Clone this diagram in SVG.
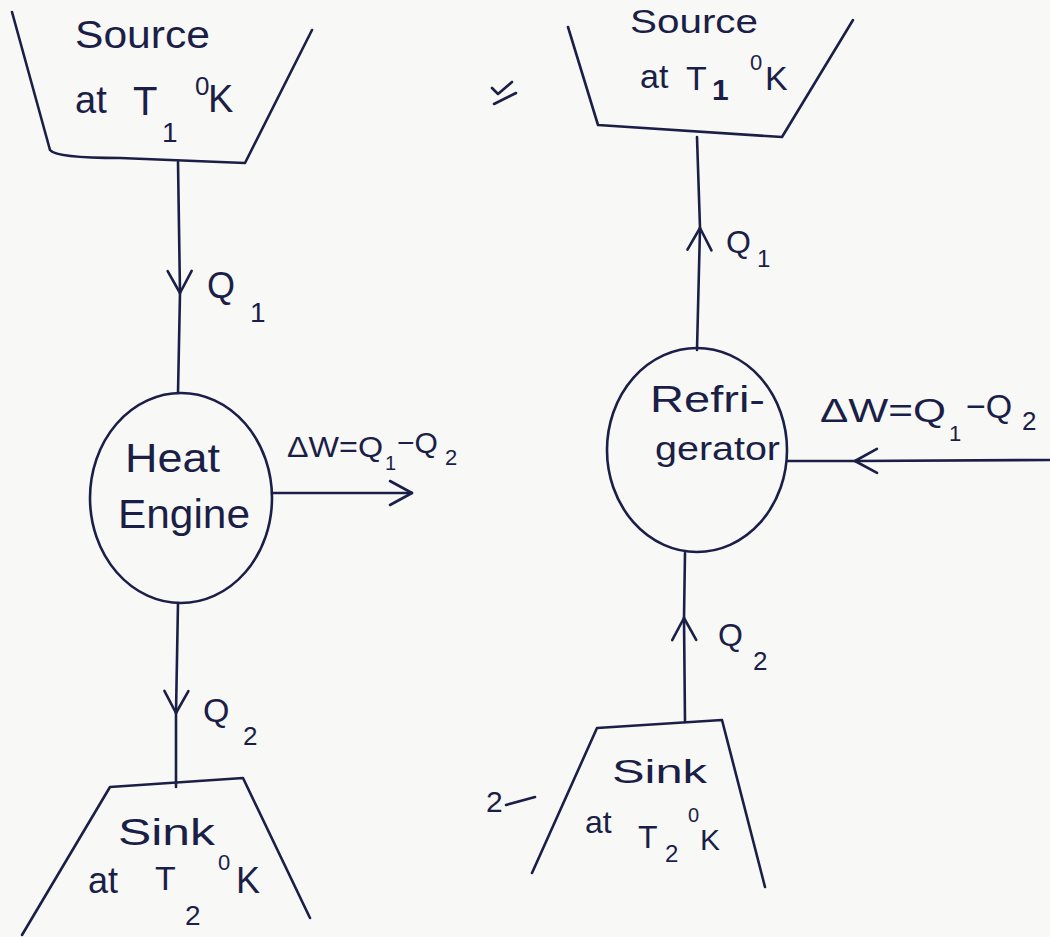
<svg xmlns="http://www.w3.org/2000/svg" width="1050" height="937" viewBox="0 0 1050 937">
<style>
.ln{fill:none;stroke:#1b1f48;stroke-width:2.6;stroke-linecap:round;stroke-linejoin:round}
.t{font-family:"Liberation Sans","DejaVu Sans",sans-serif;fill:#1b1f48}
</style>
<defs>
<marker id="chev" viewBox="-26 -16 30 32" markerWidth="30" markerHeight="32" refX="0" refY="0" orient="auto" markerUnits="userSpaceOnUse">
<path d="M-22,-12 L0,0 L-22,12" fill="none" stroke="#1b1f48" stroke-width="2.6" stroke-linecap="round" stroke-linejoin="round"/>
</marker>
</defs>
<rect width="1050" height="937" fill="#f8f8f6"/>

<g id="connectors">
<path class="ln" d="M178,162 L180,293" marker-end="url(#chev)"/>
<path class="ln" d="M180,293 L178,393"/>
<path class="ln" d="M178,603 L176,713" marker-end="url(#chev)"/>
<path class="ln" d="M176,713 L176,787"/>
<path class="ln" d="M272,493 L412,493" marker-end="url(#chev)"/>
<path class="ln" d="M697,350 L700,228" marker-end="url(#chev)"/>
<path class="ln" d="M700,228 L697,137"/>
<path class="ln" d="M685,722 L684,618" marker-end="url(#chev)"/>
<path class="ln" d="M684,618 L685,553"/>
<path class="ln" d="M1050,460 L855,461" marker-end="url(#chev)"/>
<path class="ln" d="M855,461 L787,461"/>
<text class="t" font-size="36" x="207" y="298">Q</text>
<text class="t" font-size="28" x="250" y="322">1</text>
<text class="t" font-size="34" x="203" y="722">Q</text>
<text class="t" font-size="26" x="243" y="745">2</text>
<text class="t" font-size="32" x="726" y="253">Q</text>
<text class="t" font-size="24" x="757" y="267">1</text>
<text class="t" font-size="32" x="718" y="646">Q</text>
<text class="t" font-size="26" x="753" y="670">2</text>
<text class="t" font-size="30"><tspan x="287" y="457" textLength="96" lengthAdjust="spacingAndGlyphs">ΔW=Q</tspan><tspan x="385" y="470" font-size="20">1</tspan><tspan x="397" y="453">−Q</tspan><tspan x="445" y="465" font-size="22">2</tspan></text>
<text class="t" font-size="34"><tspan x="820" y="422" textLength="126" lengthAdjust="spacingAndGlyphs">ΔW=Q</tspan><tspan x="949" y="441" font-size="22">1</tspan><tspan x="966" y="418">−Q</tspan><tspan x="1022" y="430" font-size="26">2</tspan></text>
</g>

<g id="source-left">
<path class="ln" d="M12,12 L50,150 Q56,158 120,158 L245,163 L312,30"/>
<text class="t" font-size="38" x="75" y="48" textLength="135" lengthAdjust="spacingAndGlyphs">Source</text>
<text class="t" font-size="38"><tspan x="75" y="113">at</tspan><tspan x="133" y="115" font-size="40">T</tspan><tspan x="162" y="142" font-size="28">1</tspan><tspan x="195" y="95" font-size="26">0</tspan><tspan x="208" y="112">K</tspan></text>
</g>

<g id="heat-engine">
<ellipse class="ln" cx="181" cy="498" rx="91" ry="105"/>
<text class="t" font-size="40" x="125" y="472" textLength="95" lengthAdjust="spacingAndGlyphs">Heat</text>
<text class="t" font-size="40" x="118" y="528" textLength="132" lengthAdjust="spacingAndGlyphs">Engine</text>
</g>

<g id="sink-left">
<path class="ln" d="M22,935 L110,787 L243,778 L310,918"/>
<text class="t" font-size="36" x="118" y="845" textLength="97" lengthAdjust="spacingAndGlyphs">Sink</text>
<text class="t" font-size="36"><tspan x="88" y="893">at</tspan><tspan x="155" y="890" font-size="34">T</tspan><tspan x="185" y="925" font-size="28">2</tspan><tspan x="218" y="870" font-size="22">0</tspan><tspan x="236" y="893">K</tspan></text>
</g>

<g id="source-right">
<path class="ln" d="M568,27 L598,125 L782,137 L853,20"/>
<text class="t" font-size="34" x="630" y="33" textLength="128" lengthAdjust="spacingAndGlyphs">Source</text>
<text class="t" font-size="34"><tspan x="640" y="88">at</tspan><tspan x="686" y="90">T</tspan><tspan x="712" y="100" font-size="30" font-weight="bold">1</tspan><tspan x="750" y="70" font-size="22">0</tspan><tspan x="765" y="90">K</tspan></text>
</g>

<g id="refrigerator">
<ellipse class="ln" cx="697" cy="450" rx="90" ry="102"/>
<text class="t" font-size="36" x="650" y="412" textLength="115" lengthAdjust="spacingAndGlyphs">Refri-</text>
<text class="t" font-size="34" x="655" y="460" textLength="125" lengthAdjust="spacingAndGlyphs">gerator</text>
</g>

<g id="sink-right">
<path class="ln" d="M532,873 L597,728 L722,720 L765,887"/>
<text class="t" font-size="34" x="612" y="783" textLength="95" lengthAdjust="spacingAndGlyphs">Sink</text>
<text class="t" font-size="32"><tspan x="585" y="833">at</tspan><tspan x="638" y="848">T</tspan><tspan x="665" y="862" font-size="24">2</tspan><tspan x="688" y="822" font-size="20">0</tspan><tspan x="700" y="850" font-size="30">K</tspan></text>
</g>

<g id="marks">
<path class="ln" d="M492,88 L498,94 L512,82 M494,104 L516,93" stroke-width="2"/>
<text class="t" font-size="30" x="486" y="812">2</text>
<path class="ln" d="M506,805 L535,797" stroke-width="2"/>
</g>
</svg>
